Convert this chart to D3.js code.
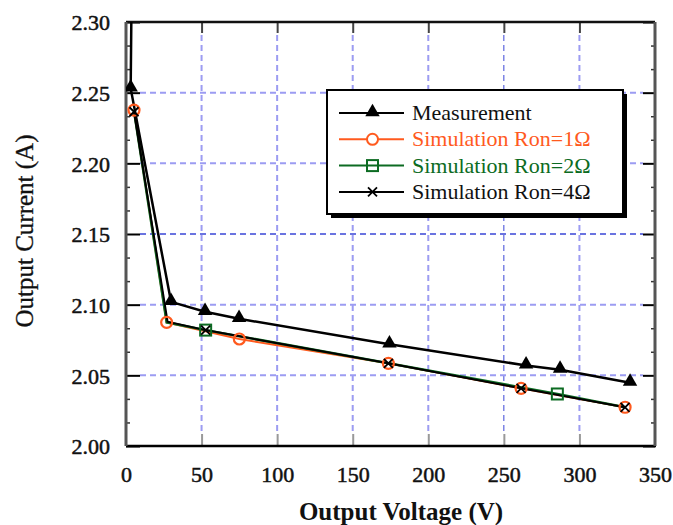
<!DOCTYPE html>
<html><head><meta charset="utf-8">
<script src="https://cdn.jsdelivr.net/npm/d3@7/dist/d3.min.js"></script>
<style>
html,body{margin:0;padding:0;background:#fff;}
svg{display:block;}
text{font-family:"Liberation Serif","Times New Roman",serif;}
</style></head>
<body>
<svg id="chart" width="673" height="525"></svg>
<script>
// ---- data ----
const xTicks = [0, 50, 100, 150, 200, 250, 300, 350];
const yTicks = [2.00, 2.05, 2.10, 2.15, 2.20, 2.25, 2.30];
const seriesNames = ["Measurement", "Simulation Ron=1\u03A9", "Simulation Ron=2\u03A9", "Simulation Ron=4\u03A9"];

const measV = [4.4, 3.1, 29.8, 52.3, 74.8, 174.3, 264.7, 287.2, 333.5];
const measI = [2.40, 2.253, 2.102, 2.095, 2.090, 2.072, 2.057, 2.054, 2.0448];

const ron1V = [5.3, 26.9, 75.0, 173.6, 261.4, 330.2];
const ron1I = [2.2377, 2.0875, 2.0757, 2.0585, 2.0408, 2.0274];

const ron2V = [5.3, 26.9, 52.7, 173.6, 285.4, 330.2];
const ron2I = [2.2370, 2.0875, 2.0820, 2.0585, 2.0368, 2.0274];
const ron2Marked = [2, 4];

const ron4V = [5.3, 27.5, 52.7, 173.6, 261.4, 330.2];
const ron4I = [2.2365, 2.0880, 2.0820, 2.0585, 2.0408, 2.0274];
const ron4Marked = [0, 2, 3, 4, 5];

// ---- layout ----
const svg = d3.select("#chart");
const L = 126, R = 655, T = 22, B = 446;
const x = d3.scaleLinear().domain([0, 350]).range([L, R]);
const y = d3.scaleLinear().domain([2.0, 2.3]).range([B, T]);

svg.append("defs").append("clipPath").attr("id", "clip")
  .append("rect").attr("x", L).attr("y", T).attr("width", R - L).attr("height", B - T);

// grid
const gridG = svg.append("g");
xTicks.filter(d => d > 0 && d < 350).forEach(d => {
  const dark = d === 250;
  gridG.append("line").attr("x1", x(d)).attr("x2", x(d)).attr("y1", T + 13).attr("y2", B - 13)
    .attr("stroke", dark ? "#3a46d6" : "#9c9cf2").attr("stroke-width", dark ? 1 : 2)
    .attr("stroke-dasharray", "6,4");
});
yTicks.filter(d => d > 2.0 && d < 2.3).forEach(d => {
  const dark = Math.abs(d - 2.15) < 1e-6;
  gridG.append("line").attr("x1", L + 14).attr("x2", R - 12).attr("y1", y(d)).attr("y2", y(d))
    .attr("stroke", dark ? "#3a46d6" : "#9c9cf2").attr("stroke-width", dark ? 1.5 : 2)
    .attr("stroke-dasharray", "6,4");
});

// minor y ticks (thirds)
const minorY = [];
for (let i = 0; i < yTicks.length - 1; i++) {
  const s = (yTicks[i + 1] - yTicks[i]) / 3;
  minorY.push(yTicks[i] + s, yTicks[i] + 2 * s);
}
svg.append("g").attr("transform", `translate(${L},0)`)
  .call(d3.axisRight(y).tickValues(minorY).tickSize(4).tickFormat(""))
  .call(g => g.select(".domain").remove())
  .call(g => g.selectAll("line").attr("stroke", "#333").attr("stroke-width", 1.5));
svg.append("g").attr("transform", `translate(${R},0)`)
  .call(d3.axisLeft(y).tickValues(minorY).tickSize(4).tickFormat(""))
  .call(g => g.select(".domain").remove())
  .call(g => g.selectAll("line").attr("stroke", "#333").attr("stroke-width", 1.5));

// major y ticks inward
svg.append("g").attr("transform", `translate(${L},0)`)
  .call(d3.axisRight(y).tickValues(yTicks).tickSize(14).tickFormat(""))
  .call(g => g.select(".domain").remove())
  .call(g => g.selectAll("line").attr("stroke", "#000").attr("stroke-width", 2));
svg.append("g").attr("transform", `translate(${R},0)`)
  .call(d3.axisLeft(y).tickValues(yTicks).tickSize(12).tickFormat(""))
  .call(g => g.select(".domain").remove())
  .call(g => g.selectAll("line").attr("stroke", "#000").attr("stroke-width", 2));

// x ticks inward (bottom and top)
svg.append("g").attr("transform", `translate(0,${B})`)
  .call(d3.axisTop(x).tickValues(xTicks.filter(d => d > 0 && d < 350)).tickSize(12).tickFormat(""))
  .call(g => g.select(".domain").remove())
  .call(g => g.selectAll("line").attr("stroke", "#999").attr("stroke-width", 2));
svg.append("g").attr("transform", `translate(0,${T})`)
  .call(d3.axisBottom(x).tickValues(xTicks.filter(d => d > 0 && d < 350)).tickSize(11).tickFormat(""))
  .call(g => g.select(".domain").remove())
  .call(g => g.selectAll("line").attr("stroke", "#444").attr("stroke-width", 2));

// tick labels
svg.append("g").attr("transform", `translate(${L},0)`)
  .call(d3.axisLeft(y).tickValues(yTicks).tickSize(0).tickPadding(16).tickFormat(d3.format(".2f")))
  .call(g => g.select(".domain").remove())
  .call(g => g.selectAll("text").attr("font-size", 22).attr("fill", "#111")
    .attr("stroke", "#111").attr("stroke-width", 0.5)
    .attr("font-family", "Liberation Serif").attr("dy", "0.36em"));
svg.append("g").attr("transform", `translate(0,${B})`)
  .call(d3.axisBottom(x).tickValues(xTicks).tickSize(0).tickPadding(20).tickFormat(d3.format("d")))
  .call(g => g.select(".domain").remove())
  .call(g => g.selectAll("text").attr("font-size", 22).attr("fill", "#111")
    .attr("stroke", "#111").attr("stroke-width", 0.5)
    .attr("font-family", "Liberation Serif").attr("dy", "0.71em"));

// frame
svg.append("line").attr("x1", L).attr("x2", R).attr("y1", T).attr("y2", T).attr("stroke", "#111").attr("stroke-width", 2.5);
svg.append("line").attr("x1", L).attr("x2", R + 1).attr("y1", B).attr("y2", B).attr("stroke", "#000").attr("stroke-width", 2.5);
svg.append("line").attr("x1", L).attr("x2", L).attr("y1", T).attr("y2", B).attr("stroke", "#555").attr("stroke-width", 3);
svg.append("line").attr("x1", R).attr("x2", R).attr("y1", T).attr("y2", B).attr("stroke", "#555").attr("stroke-width", 3);

// series
const plot = svg.append("g").attr("clip-path", "url(#clip)");
const line = d3.line().x(d => x(d[0])).y(d => y(d[1]));
const zip = (a, b) => a.map((v, i) => [v, b[i]]);

const ORANGE = "#ff5a1e", GREEN = "#0c6b22";

plot.append("path").datum(zip(ron1V, ron1I)).attr("d", line).attr("fill", "none").attr("stroke", ORANGE).attr("stroke-width", 2);
plot.append("path").datum(zip(ron2V, ron2I)).attr("d", line).attr("fill", "none").attr("stroke", GREEN).attr("stroke-width", 2.5);
plot.append("path").datum(zip(ron4V, ron4I)).attr("d", line).attr("fill", "none").attr("stroke", "#000").attr("stroke-width", 2);
plot.append("path").datum(zip(measV, measI)).attr("d", line).attr("fill", "none").attr("stroke", "#000").attr("stroke-width", 2.5);

const tri = d3.symbol().type(d3.symbolTriangle).size(90);
plot.selectAll(".tri").data(zip(measV, measI)).join("path")
  .attr("transform", d => `translate(${x(d[0])},${y(d[1]) - 1})`).attr("d", tri).attr("fill", "#000");

plot.selectAll(".circ").data(zip(ron1V, ron1I)).join("circle")
  .attr("cx", d => x(d[0])).attr("cy", d => y(d[1])).attr("r", 5.5)
  .attr("fill", "none").attr("stroke", ORANGE).attr("stroke-width", 2.2);

plot.selectAll(".sq").data(zip(ron2V, ron2I).filter((d, i) => ron2Marked.includes(i))).join("rect")
  .attr("x", d => x(d[0]) - 5.5).attr("y", d => y(d[1]) - 5.5).attr("width", 11).attr("height", 11)
  .attr("fill", "none").attr("stroke", GREEN).attr("stroke-width", 2);

const xs = 4.5;
plot.selectAll(".xm").data(zip(ron4V, ron4I).filter((d, i) => ron4Marked.includes(i))).join("path")
  .attr("d", d => {
    const cx = x(d[0]), cy = y(d[1]);
    return `M${cx - xs},${cy - xs}L${cx + xs},${cy + xs}M${cx - xs},${cy + xs}L${cx + xs},${cy - xs}`;
  })
  .attr("stroke", "#000").attr("stroke-width", 1.8).attr("fill", "none");

// legend
const lg = svg.append("g");
const lx = 327, ly = 90, lw = 296, lh = 124;
lg.append("rect").attr("x", lx + 4).attr("y", ly + 4).attr("width", lw).attr("height", lh).attr("fill", "#000");
lg.append("rect").attr("x", lx).attr("y", ly).attr("width", lw).attr("height", lh).attr("fill", "#fff").attr("stroke", "#000").attr("stroke-width", 2);
const colors = ["#000", ORANGE, GREEN, "#000"];
const textColors = ["#111", ORANGE, GREEN, "#111"];
seriesNames.forEach((name, i) => {
  const cy = 113 + i * 26.3;
  const g = lg.append("g");
  g.append("line").attr("x1", 339).attr("x2", 404).attr("y1", cy).attr("y2", cy).attr("stroke", colors[i]).attr("stroke-width", 2);
  const mx = 372.5;
  if (i === 0) g.append("path").attr("transform", `translate(${mx},${cy - 1})`).attr("d", tri).attr("fill", "#000");
  if (i === 1) g.append("circle").attr("cx", mx).attr("cy", cy).attr("r", 5.5).attr("fill", "#fff").attr("stroke", ORANGE).attr("stroke-width", 2);
  if (i === 2) g.append("rect").attr("x", mx - 5.5).attr("y", cy - 5.5).attr("width", 11).attr("height", 11).attr("fill", "none").attr("stroke", GREEN).attr("stroke-width", 2);
  if (i === 3) g.append("path").attr("d", `M${mx - xs},${cy - xs}L${mx + xs},${cy + xs}M${mx - xs},${cy + xs}L${mx + xs},${cy - xs}`).attr("stroke", "#000").attr("stroke-width", 1.8);
  g.append("text").attr("x", 412).attr("y", cy + 7).attr("font-size", 22).attr("fill", textColors[i]).text(name);
});

// axis titles
svg.append("text").attr("x", 401).attr("y", 520).attr("text-anchor", "middle")
  .attr("font-size", 25).attr("font-weight", "bold").attr("fill", "#111").text("Output Voltage (V)");
svg.append("text").attr("transform", "translate(33,231) rotate(-90)").attr("text-anchor", "middle")
  .attr("font-size", 25).attr("fill", "#111").attr("stroke", "#111").attr("stroke-width", 0.3).text("Output Current (A)");
</script>
</body></html>
